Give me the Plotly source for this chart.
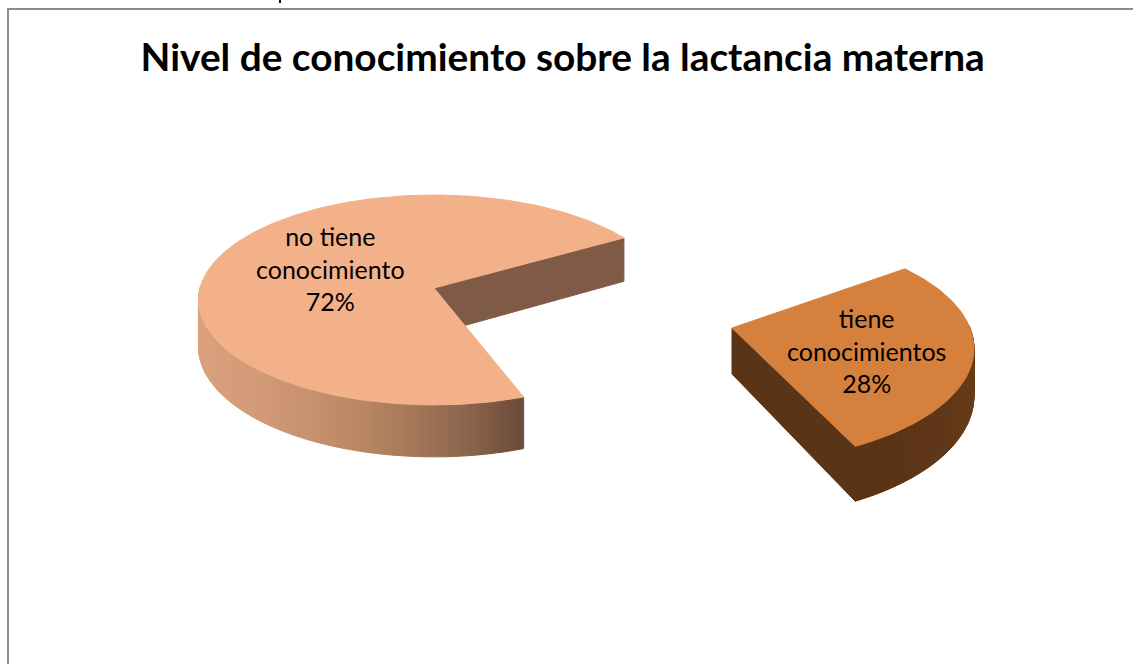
import math
import plotly.graph_objects as go

# Chart content
title = "Nivel de conocimiento sobre la lactancia materna"
categories = ["no tiene conocimiento", "tiene conocimientos"]
percentages = [72, 28]
label_lines = [["no tiene", "conocimiento", "72%"], ["tiene", "conocimientos", "28%"]]
top_colors = ["#F3B189", "#D5803C"]
wall_colors = ["#7F5A46", "#5A3416"]

# Angle (screen degrees, clockwise from +x) at which each wedge starts
start_angles = [70, -36.5]
# Wedge apex on the page for each exploded slice
apexes = [(434, 288), (732, 328)]

# Projection per slice: the exploded wedge sits nearer the viewer
radius_x = [234, 238]
radius_y = [103.6, 110]
perspective = [0.114, 0.18]
depth = [46, 46]


def project(k, ang, r=1.0, drop=0.0):
    """Tilted-disc projection with mild perspective toward the viewer."""
    px, py = r * math.cos(math.radians(ang)), r * math.sin(math.radians(ang))
    s = 1 / (1 - perspective[k] * py)
    return apexes[k][0] + radius_x[k] * px * s, apexes[k][1] + (radius_y[k] * py + drop) * s


def lerp_hex(stops, t):
    t = max(0.0, min(1.0, t)) * (len(stops) - 1)
    i = min(int(t), len(stops) - 2)
    f = t - i
    a = [int(stops[i][j:j + 2], 16) for j in (1, 3, 5)]
    b = [int(stops[i + 1][j:j + 2], 16) for j in (1, 3, 5)]
    return "#%02x%02x%02x" % tuple(round(a[c] + (b[c] - a[c]) * f) for c in range(3))


def poly(fig, pts, color, name):
    xs = [p[0] for p in pts] + [pts[0][0]]
    ys = [p[1] for p in pts] + [pts[0][1]]
    fig.add_trace(go.Scatter(x=xs, y=ys, mode="lines", fill="toself", fillcolor=color,
                             line=dict(color=color, width=1), hoverinfo="skip",
                             name=name, showlegend=False))


# Rim shading runs left to right along the visible outer wall
rim_stops = [
    ["#DAA17D", "#D39B77", "#C8926F", "#B98763", "#A27658", "#8B644C", "#6B4A38"],
    ["#5A3416", "#5B3416", "#5E3617", "#663C19"],
]

fig = go.Figure()
for k, pct in enumerate(percentages):
    start = start_angles[k]
    sweep = pct * 3.6
    end = start + sweep
    name = categories[k]

    # Cut face that looks toward the viewer
    poly(fig, [project(k, end), project(k, end, drop=depth[k]),
               project(k, end, r=0, drop=depth[k]), project(k, end, r=0)],
         wall_colors[k], name)

    # Outer wall: thin shaded strips where the rim faces the viewer
    steps = int(sweep)
    strips = []
    for i in range(steps):
        a0 = start + sweep * i / steps
        a1 = start + sweep * (i + 1) / steps
        if math.sin(math.radians((a0 + a1) / 2)) >= -0.02:
            strips.append((a0, a1))
    visible_x = [project(k, a)[0] for pair in strips for a in pair]
    xmin, xmax = min(visible_x), max(visible_x)
    for a0, a1 in strips:
        t = (project(k, (a0 + a1) / 2)[0] - xmin) / (xmax - xmin)
        poly(fig, [project(k, a0), project(k, a1),
                   project(k, a1, drop=depth[k]), project(k, a0, drop=depth[k])],
             lerp_hex(rim_stops[k], t), name)

    # Top face of the wedge
    n = int(sweep) + 1
    top = [project(k, 0, r=0)] + [project(k, start + sweep * i / (n - 1)) for i in range(n)]
    poly(fig, top, top_colors[k], name)

# Slice labels sit on the top faces
label_pos = [(330, 268), (866, 350)]
annotations = []
for k, lines in enumerate(label_lines):
    annotations.append(dict(x=label_pos[k][0], y=label_pos[k][1], xref="x", yref="y",
                            text="<br>".join(lines), showarrow=False, align="center",
                            font=dict(family="Lato", size=25, color="#000000")))

# Frame drawn along the top and left edges, plus the stray descender above it
frame = [
    dict(type="line", xref="x", yref="y", x0=7, y0=9, x1=1133, y1=9,
         line=dict(color="#8C8C8C", width=2), layer="below"),
    dict(type="line", xref="x", yref="y", x0=8, y0=8, x1=8, y1=664,
         line=dict(color="#8C8C8C", width=2), layer="below"),
    dict(type="line", xref="x", yref="y", x0=280, y0=0, x1=280, y1=3,
         line=dict(color="#111111", width=2), layer="below"),
]

fig.update_layout(
    width=1133, height=664, autosize=False,
    margin=dict(l=0, r=0, t=0, b=0),
    paper_bgcolor="#FFFFFF", plot_bgcolor="#FFFFFF",
    showlegend=False,
    title=dict(text="<b>" + title + "</b>", x=0.4966, xanchor="center", xref="paper",
               y=0.913, yanchor="middle",
               font=dict(family="Lato", size=38.8, color="#000000")),
    xaxis=dict(range=[0, 1133], visible=False, fixedrange=True),
    yaxis=dict(range=[664, 0], visible=False, fixedrange=True),
    annotations=annotations,
    shapes=frame,
)
fig.write_html("out.html", config=dict(displayModeBar=False))
